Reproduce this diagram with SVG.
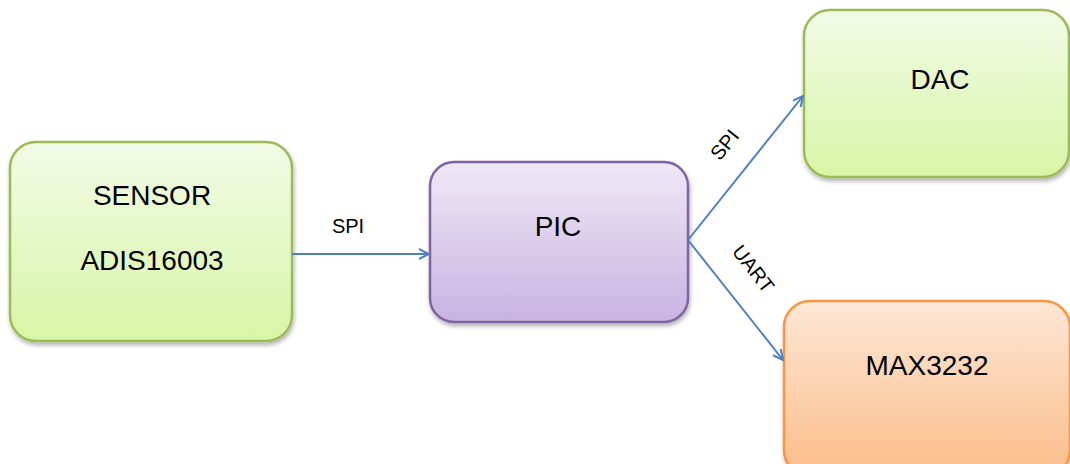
<svg xmlns="http://www.w3.org/2000/svg" width="1070" height="464" viewBox="0 0 1070 464">
<defs>
<linearGradient id="gGreen" x1="0" y1="0" x2="0" y2="1"><stop offset="0" stop-color="#f2fae6"/><stop offset="1" stop-color="#d7f5a6"/></linearGradient>
<linearGradient id="gPurple" x1="0" y1="0" x2="0" y2="1"><stop offset="0" stop-color="#eee8f6"/><stop offset="1" stop-color="#c8b3e1"/></linearGradient>
<linearGradient id="gOrange" x1="0" y1="0" x2="0" y2="1"><stop offset="0" stop-color="#fde7d6"/><stop offset="1" stop-color="#fbbd88"/></linearGradient>
<filter id="sh" x="-10%" y="-10%" width="120%" height="125%"><feDropShadow dx="1" dy="3" stdDeviation="2" flood-color="#000" flood-opacity="0.3"/></filter>
<marker id="arr" viewBox="0 0 12 12" refX="11" refY="6" markerWidth="12" markerHeight="12" markerUnits="userSpaceOnUse" orient="auto"><path d="M1,1 L11,6 L1,11" fill="none" stroke="#4f81bd" stroke-width="2"/></marker>
</defs>
<style>
.t{font-family:"Liberation Sans",Arial,sans-serif;font-size:28px;fill:#000;text-anchor:middle}
.l{font-family:"Liberation Sans",Arial,sans-serif;font-size:20px;fill:#000;text-anchor:middle}
.c{fill:none;stroke:#4f81bd;stroke-width:2}
.green{fill:url(#gGreen);stroke:#9bbb59;stroke-width:2.5}
.purple{fill:url(#gPurple);stroke:#8064a2;stroke-width:2.5}
.orange{fill:url(#gOrange);stroke:#f79646;stroke-width:2.5}
</style>
<rect width="1070" height="464" fill="#fff"/>
<g id="sensor"><rect class="green" x="10" y="142" width="282" height="199" rx="26" filter="url(#sh)"/><text class="t" x="152" y="205">SENSOR</text><text class="t" x="152" y="270">ADIS16003</text></g>
<g id="pic"><rect class="purple" x="430" y="162" width="258" height="160" rx="24" filter="url(#sh)"/><text class="t" x="558" y="236">PIC</text></g>
<g id="dac"><rect class="green" x="804" y="10" width="265" height="167" rx="26" filter="url(#sh)"/><text class="t" x="940" y="89">DAC</text></g>
<g id="max3232"><rect class="orange" x="784" y="301" width="286" height="175" rx="26" filter="url(#sh)"/><text class="t" x="927" y="375">MAX3232</text></g>
<g id="connectors">
<line class="c" x1="292" y1="254" x2="429" y2="254" marker-end="url(#arr)"/>
<line class="c" x1="688" y1="240" x2="803" y2="96" marker-end="url(#arr)"/>
<line class="c" x1="688" y1="240" x2="783" y2="360" marker-end="url(#arr)"/>
<text class="l" x="348" y="233">SPI</text>
<text class="l" transform="translate(730,149) rotate(-51)">SPI</text>
<text class="l" transform="translate(748,273) rotate(52)">UART</text>
</g>
</svg>
